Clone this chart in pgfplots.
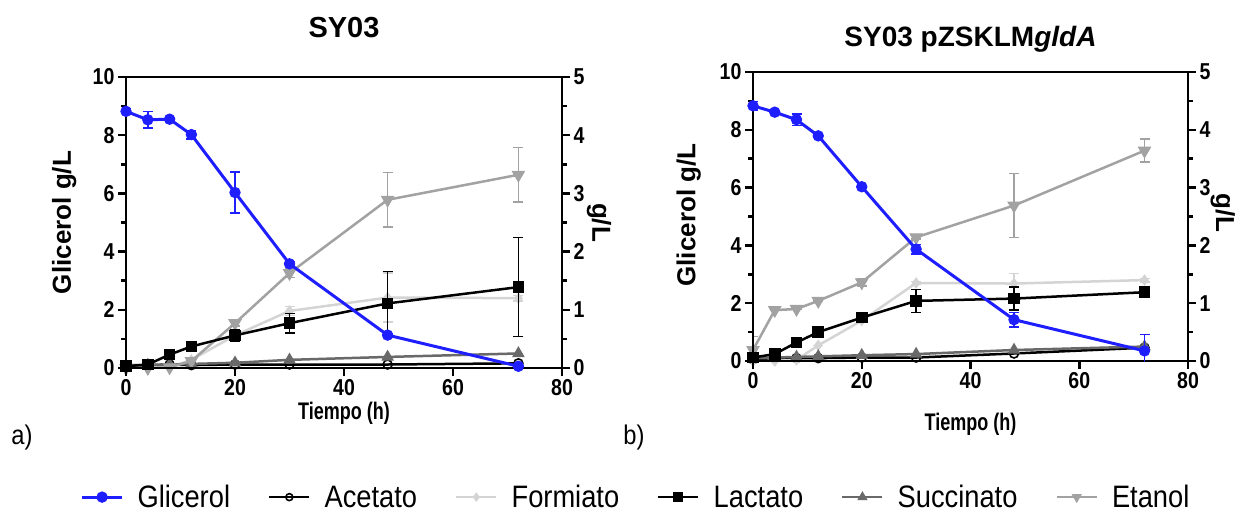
\documentclass[border=0pt]{standalone}
\usepackage{pgfplots}
\pgfplotsset{compat=1.18}
\usepackage{pgfplotstable}
\usepackage{fontspec}
\setmainfont{Liberation Sans}
\newfontfamily\cond[FakeStretch=0.85]{Liberation Sans}
\newfontfamily\condx[FakeStretch=0.75]{Liberation Sans}
\newfontfamily\legf[FakeStretch=0.88]{Liberation Sans}

\definecolor{glc}{RGB}{30,30,255}
\definecolor{frm}{RGB}{212,212,212}
\definecolor{suc}{RGB}{105,105,105}
\definecolor{eta}{RGB}{162,162,162}

\pgfplotstableread{
t  gly  glye ace  frm  frme lac  lace suc  eta  etae
0  8.82 0.10 0.05 0.00 0    0.03 0    0.04 0.00 0
4  8.53 0.28 0.05 0.00 0    0.06 0    0.05 0.00 0
8  8.55 0.05 0.06 0.01 0    0.23 0    0.06 0.01 0
12 8.02 0.15 0.05 0.14 0    0.37 0    0.07 0.12 0
20 6.03 0.70 0.06 0.56 0.05 0.56 0.10 0.09 0.77 0.05
30 3.58 0.08 0.06 0.98 0.08 0.77 0.17 0.14 1.63 0.07
48 1.13 0.05 0.06 1.21 0.42 1.11 0.55 0.19 2.89 0.47
72 0.06 0.05 0.08 1.20 0.05 1.39 0.85 0.25 3.32 0.47
}\tabA

\pgfplotstableread{
t  gly  glye ace  frm  frme lac  lace suc  eta  etae
0  8.83 0.15 0.03 0.00 0    0.06 0    0.05 0.19 0.23
4  8.61 0.05 0.05 0.00 0    0.12 0    0.06 0.88 0
8  8.35 0.20 0.05 0.02 0    0.32 0    0.07 0.90 0
12 7.79 0.05 0.05 0.27 0    0.50 0    0.08 1.04 0
20 6.03 0.05 0.06 0.70 0    0.75 0.03 0.10 1.36 0.06
30 3.87 0.17 0.06 1.35 0.03 1.04 0.20 0.12 2.14 0.03
48 1.43 0.25 0.13 1.34 0.17 1.08 0.20 0.19 2.69 0.55
72 0.35 0.57 0.23 1.40 0.03 1.19 0.08 0.25 3.64 0.20
}\tabB

\pgfplotsset{
  base/.style={
    scale only axis, xmin=0, xmax=80,
    axis line style={line width=2.5pt},
    every tick/.style={black, line width=2.5pt},
    major tick length=8pt, minor tick length=5pt,
    tick align=outside,
    /pgf/number format/assume math mode=true,
    tick label style={font=\cond\bfseries\fontsize{23}{23}\selectfont},
    label style={font=\bfseries\fontsize{26}{28}\selectfont},
    clip mode=individual,
    error bars/error bar style={line width=1.4pt},
    error bars/error mark options={rotate=90, mark size=5pt, line width=1.4pt},
  },
  sgly/.style={glc, line width=3pt, mark=*, mark size=5.2pt, mark options={solid, fill=glc, line width=1pt}},
  sace/.style={black, line width=2.5pt, mark=o, mark size=4.5pt, mark options={solid, line width=1.6pt}},
  sfrm/.style={frm, line width=2.5pt, mark=diamond*, mark size=5pt, mark options={solid, fill=frm, line width=1pt}},
  slac/.style={black, line width=2.5pt, mark=square*, mark size=5.3pt, mark options={solid, fill=black, line width=1pt}},
  ssuc/.style={suc, line width=2.5pt, mark=triangle*, mark size=6.3pt, mark options={solid, fill=suc, line width=1pt}},
  seta/.style={eta, line width=2.5pt, mark=triangle*, mark size=7pt, mark options={solid, fill=eta, rotate=180, line width=1pt}},
  ebar/.style={error bars/y dir=both, error bars/y explicit},
}

\begin{document}
\begin{tikzpicture}
\useasboundingbox (0,0) rectangle (1246pt,517pt);

% ---------- Plot a) : right axis (products)
\begin{axis}[base, at={(126pt,149pt)}, anchor=south west, width=436pt, height=291pt,
  ymin=0, ymax=5, axis y line*=right, axis x line=none,
  ytick={0,1,...,5}, minor ytick={0.5,1.5,...,4.5},
  ylabel={g/L}, ylabel style={at={(axis description cs:1.085,0.5)}, anchor=center, rotate=180}]
\addplot[sace] table[x=t, y=ace] \tabA;
\addplot[sfrm, ebar] table[x=t, y=frm, y error=frme] \tabA;
\addplot[ssuc] table[x=t, y=suc] \tabA;
\addplot[seta, ebar] table[x=t, y=eta, y error=etae] \tabA;
\addplot[slac, ebar] table[x=t, y=lac, y error=lace] \tabA;
\end{axis}

% ---------- Plot a) : left axis (glycerol)
\begin{axis}[base, at={(126pt,149pt)}, anchor=south west, width=436pt, height=291pt,
  ymin=0, ymax=10, ytick={0,2,...,10}, minor ytick={1,3,...,9},
  xtick={0,20,...,80}, xtick pos=left, ytick pos=left,
  title={SY03}, title style={at={(axis description cs:0.5,1.15)}, anchor=center, font=\bfseries\fontsize{29}{31}\selectfont},
  xlabel={Tiempo (h)}, xlabel style={at={(axis description cs:0.5,-0.155)}, anchor=center, font=\condx\bfseries\fontsize{24}{25}\selectfont},
  ylabel={Glicerol g/L}, ylabel style={at={(axis description cs:-0.142,0.5)}, anchor=center}]
\addplot[sgly, ebar] table[x=t, y=gly, y error=glye] \tabA;
\end{axis}

% ---------- Plot b) : right axis (products)
\begin{axis}[base, at={(753pt,156pt)}, anchor=south west, width=435pt, height=289pt,
  ymin=0, ymax=5, axis y line*=right, axis x line=none,
  ytick={0,1,...,5}, minor ytick={0.5,1.5,...,4.5},
  ylabel={g/L}, ylabel style={at={(axis description cs:1.08,0.512)}, anchor=center, rotate=180}]
\addplot[sace] table[x=t, y=ace] \tabB;
\addplot[sfrm, ebar] table[x=t, y=frm, y error=frme] \tabB;
\addplot[ssuc] table[x=t, y=suc] \tabB;
\addplot[seta, ebar] table[x=t, y=eta, y error=etae] \tabB;
\addplot[slac, ebar] table[x=t, y=lac, y error=lace] \tabB;
\end{axis}

% ---------- Plot b) : left axis (glycerol) + legend
\begin{axis}[base, at={(753pt,156pt)}, anchor=south west, width=435pt, height=289pt,
  ymin=0, ymax=10, ytick={0,2,...,10}, minor ytick={1,3,...,9},
  xtick={0,20,...,80}, xtick pos=left, ytick pos=left,
  title={SY03 pZSKLM\textit{gldA}}, title style={at={(axis description cs:0.5,1.093)}, anchor=center, font=\bfseries\fontsize{28}{30}\selectfont},
  xlabel={Tiempo (h)}, xlabel style={at={(axis description cs:0.5,-0.218)}, anchor=center, font=\condx\bfseries\fontsize{24}{25}\selectfont},
  ylabel={Glicerol g/L}, ylabel style={at={(axis description cs:-0.148,0.505)}, anchor=center},
  legend image code/.code={\draw[mark repeat=2, mark phase=2, #1] plot coordinates {(0pt,0pt) (20pt,0pt) (40pt,0pt)};},
  legend style={at={(axis description cs:-0.269,-0.471)}, anchor=center, legend columns=6, draw=none, fill=none,
    font=\legf\fontsize{31}{33}\selectfont,
    /tikz/every odd column/.append style={column sep=12pt},
    /tikz/every even column/.append style={column sep=36pt}},
  ]
\addplot[forget plot, sgly, ebar] table[x=t, y=gly, y error=glye] \tabB;
\addlegendimage{sgly}
\addlegendentry{Glicerol}
\addlegendimage{sace, mark size=3.5pt}
\addlegendentry{Acetato}
\addlegendimage{sfrm, mark size=4pt}
\addlegendentry{Formiato}
\addlegendimage{slac, mark size=4.5pt}
\addlegendentry{Lactato}
\addlegendimage{ssuc, mark size=5pt}
\addlegendentry{Succinato}
\addlegendimage{seta, mark size=5pt}
\addlegendentry{Etanol}
\end{axis}

\node[font=\legf\fontsize{27}{29}\selectfont, anchor=center] at (22pt,79pt) {a)};
\node[font=\legf\fontsize{27}{29}\selectfont, anchor=center] at (634pt,79pt) {b)};
\end{tikzpicture}
\end{document}
